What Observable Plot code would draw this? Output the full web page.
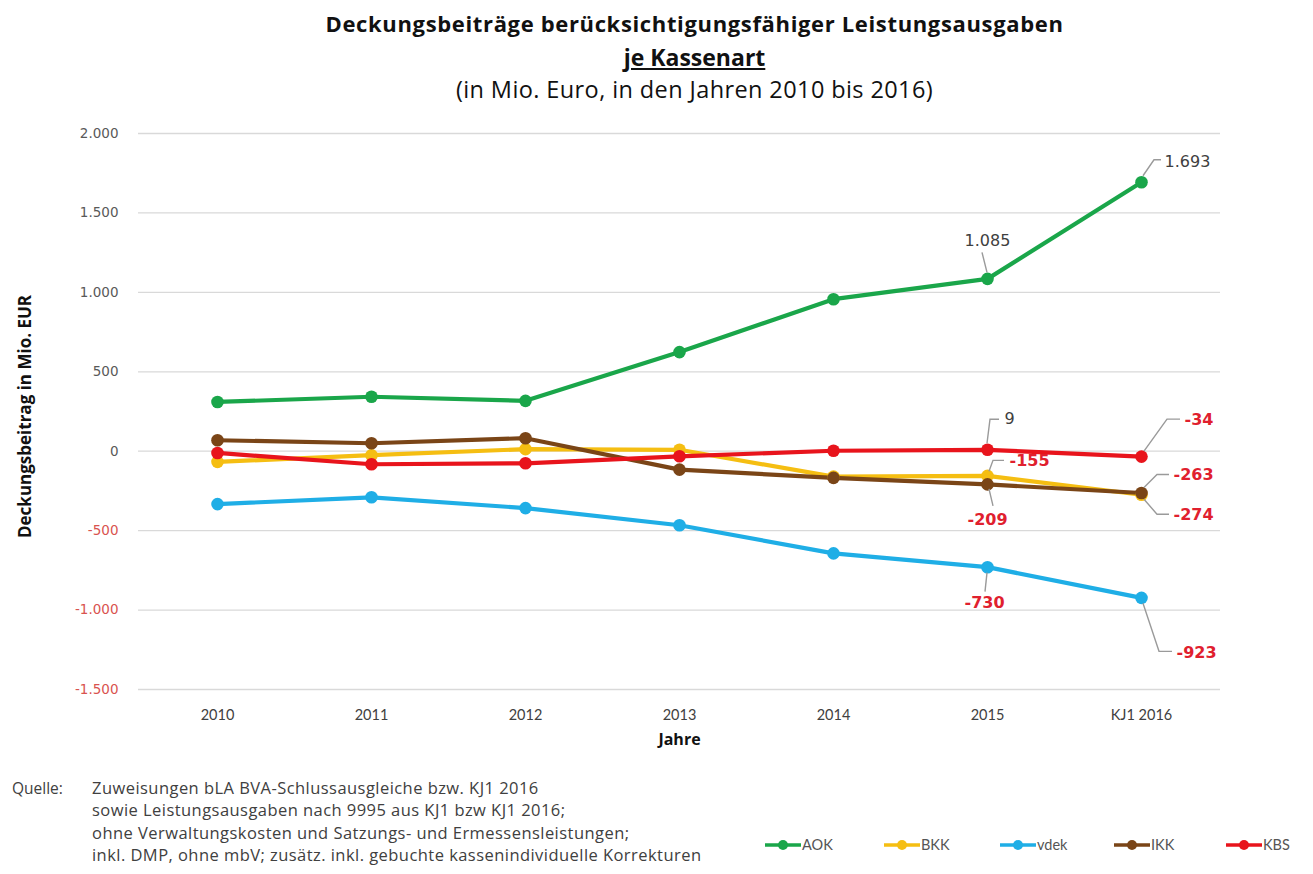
<!DOCTYPE html>
<html>
<head>
<meta charset="utf-8">
<script src="https://cdn.jsdelivr.net/npm/d3@7"></script>
<script src="https://cdn.jsdelivr.net/npm/@observablehq/plot@0.6"></script>
<style>
  html, body { margin: 0; padding: 0; background: #fff; }
  body { width: 1313px; height: 874px; overflow: hidden; position: relative; font-family: "Open Sans", Lato, sans-serif; }
  #head { height: 115px; text-align: center; color: #111; }
  #head div { position: absolute; left: 38px; width: 1313px; text-align: center; white-space: nowrap; }
  #head .t1 { top: 8px; font-weight: bold; font-size: 22px; letter-spacing: 0.65px; }
  #head .t2 { top: 41px; font-weight: bold; font-size: 23px; text-decoration: underline; }
  #head .t3 { top: 73px; font-size: 23.5px; letter-spacing: 0.4px; }
  #chart { position: absolute; top: 115px; left: 0; }
  #caption { position: absolute; top: 777px; left: 12px; font-size: 16.5px; letter-spacing: 0.45px; color: #404040; line-height: 22.3px; }
  #caption .q { position: absolute; left: 0; top: 0; letter-spacing: 0; font-size: 15.5px; }
  #caption .lines { position: absolute; left: 80px; top: 0; white-space: nowrap; }
  #legend { position: absolute; top: 833px; left: 0; }
</style>
</head>
<body>
<div id="head">
  <div class="t1">Deckungsbeiträge berücksichtigungsfähiger Leistungsausgaben</div>
  <div class="t2">je Kassenart</div>
  <div class="t3">(in Mio. Euro, in den Jahren 2010 bis 2016)</div>
</div>
<div id="chart"></div>
<div id="caption">
  <div class="q">Quelle:</div>
  <div class="lines">
    Zuweisungen bLA BVA-Schlussausgleiche bzw. KJ1 2016<br>
    sowie Leistungsausgaben nach 9995 aus KJ1 bzw KJ1 2016;<br>
    ohne Verwaltungskosten und Satzungs- und Ermessensleistungen;<br>
    inkl. DMP, ohne mbV; zusätz. inkl. gebuchte kassenindividuelle Korrekturen
  </div>
</div>
<div id="legend"></div>
<script>
// ---- data ----
const years = ["2010", "2011", "2012", "2013", "2014", "2015", "KJ1 2016"];
const seriesNames = ["AOK", "BKK", "vdek", "IKK", "KBS"];
const seriesColors = ["#1AA64A", "#F5BE12", "#1FAEE6", "#7A4517", "#E8141C"];
const AOK  = [310, 343, 317, 624, 957, 1085, 1693];
const BKK  = [-67, -25, 13, 9, -160, -155, -274];
const vdek = [-333, -290, -358, -466, -643, -730, -923];
const IKK  = [69, 50, 82, -116, -168, -209, -263];
const KBS  = [-11, -82, -76, -32, 3, 9, -34];
const yTicks = [-1500, -1000, -500, 0, 500, 1000, 1500, 2000];
const labelled = [
  ["AOK", "2015"], ["AOK", "KJ1 2016"], ["KBS", "2015"], ["BKK", "2015"], ["IKK", "2015"],
  ["vdek", "2015"], ["vdek", "KJ1 2016"], ["KBS", "KJ1 2016"], ["IKK", "KJ1 2016"], ["BKK", "KJ1 2016"]
];

const seriesValues = {AOK, BKK, vdek, IKK, KBS};
const table = seriesNames.flatMap(s => years.map((y, i) => ({series: s, year: y, value: seriesValues[s][i]})));

const de = d3.formatLocale({decimal: ",", thousands: ".", grouping: [3], currency: ["", " €"], minus: "-"});
const fmt = de.format(",d");

// label placement (pixels): text offset, anchor, leader polyline offsets
const place = {
  "AOK|2015":      {dx: 0,  dy: -38, anchor: "middle", lead: [[0,-6],[-5,-26]]},
  "AOK|KJ1 2016":  {dx: 23, dy: -20, anchor: "start",  lead: [[2,-6],[13,-22],[20,-22]]},
  "KBS|2015":      {dx: 17, dy: -31, anchor: "start",  lead: [[0,-6],[3,-30],[12,-30]]},
  "BKK|2015":      {dx: 22, dy: -15, anchor: "start",  lead: [[2,-4],[6,-15],[17,-15]]},
  "IKK|2015":      {dx: 0,  dy: 35,  anchor: "middle", lead: [[2,5],[6,22]]},
  "vdek|2015":     {dx: -3, dy: 36,  anchor: "middle", lead: [[0,6],[-2,25]]},
  "vdek|KJ1 2016": {dx: 35, dy: 55,  anchor: "start",  lead: [[2,6],[18,54],[31,54]]},
  "KBS|KJ1 2016":  {dx: 43, dy: -37, anchor: "start",  lead: [[3,-5],[26,-37],[39,-37]]},
  "IKK|KJ1 2016":  {dx: 32, dy: -18, anchor: "start",  lead: [[3,-5],[16,-18],[28,-18]]},
  "BKK|KJ1 2016":  {dx: 32, dy: 20,  anchor: "start",  lead: [[3,5],[16,20],[28,20]]}
};

const colorScale = {domain: seriesNames, range: seriesColors};

const labelMarks = labelled.map(([s, y]) => {
  const d = table.find(r => r.series === s && r.year === y);
  const p = place[s + "|" + y];
  return Plot.text([d], {
    x: "year", y: "value", text: r => fmt(r.value),
    dx: p.dx, dy: p.dy, textAnchor: p.anchor,
    fill: d.value < 0 ? "#E0202E" : "#404040",
    fontWeight: d.value < 0 ? "bold" : "normal",
    fontSize: 16, fontFamily: "DejaVu Sans"
  });
});

const chart = Plot.plot({
  width: 1313,
  height: 640,
  marginLeft: 138,
  marginRight: 93,
  marginTop: 18,
  marginBottom: 66,
  style: {fontFamily: "Lato, 'Open Sans', sans-serif", background: "#fff"},
  x: {type: "point", domain: years, padding: 0.5, label: null},
  y: {domain: [-1500, 2000], ticks: yTicks, label: null},
  color: colorScale,
  marks: [
    Plot.gridY(yTicks, {stroke: "#D9D9D9", strokeOpacity: 1, strokeWidth: 1.3}),
    Plot.axisY(yTicks, {
      tickSize: 0, tickPadding: 20, tickFormat: fmt, fontSize: 13.5, label: null,
      fill: d => d < 0 ? "#D9534F" : "#595959", fontFamily: "DejaVu Sans"
    }),
    Plot.axisX({tickSize: 0, tickPadding: 20, fontSize: 14.5, label: null, fill: "#404040", fontFamily: "Lato"}),
    Plot.text(["Deckungsbeitrag in Mio. EUR"], {
      frameAnchor: "left", textAnchor: "middle", dx: -113, dy: 5, rotate: -90,
      fontWeight: "bold", fontSize: 17, fill: "#111", fontFamily: "Open Sans"
    }),
    Plot.text(["Jahre"], {frameAnchor: "bottom", dy: 55, fontWeight: "bold", fontSize: 16, fill: "#111", fontFamily: "Open Sans"}),
    Plot.line(table, {x: "year", y: "value", z: "series", stroke: "series", strokeWidth: 4.2, curve: "linear"}),
    Plot.dot(table, {x: "year", y: "value", fill: "series", r: 6.3}),
    ...labelMarks
  ]
});

// leader lines via the chart's own scales
const xs = chart.scale("x"), ys = chart.scale("y");
const g = d3.select(chart).append("g").attr("fill", "none").attr("stroke", "#9A9A9A").attr("stroke-width", 1.4);
labelled.forEach(([s, y]) => {
  const d = table.find(r => r.series === s && r.year === y);
  const p = place[s + "|" + y];
  const px = xs.apply(d.year), py = ys.apply(d.value);
  g.append("path").attr("d", d3.line()(p.lead.map(([a, b]) => [px + a, py + b])));
});
document.getElementById("chart").appendChild(chart);

// legend
const legendX = [765, 884, 1000, 1114, 1226];
const leg = d3.select("#legend").append("svg").attr("width", 1313).attr("height", 24);
seriesNames.forEach((s, i) => {
  const gg = leg.append("g").attr("transform", `translate(${legendX[i]},12)`);
  gg.append("line").attr("x1", 0).attr("x2", 36).attr("stroke", seriesColors[i]).attr("stroke-width", 3.5);
  gg.append("circle").attr("cx", 18).attr("r", 5).attr("fill", seriesColors[i]);
  gg.append("text").attr("x", 37).attr("y", 5).attr("font-size", 14.5).attr("fill", "#555")
    .attr("font-family", "Lato, sans-serif").text(s);
});
</script>
</body>
</html>
